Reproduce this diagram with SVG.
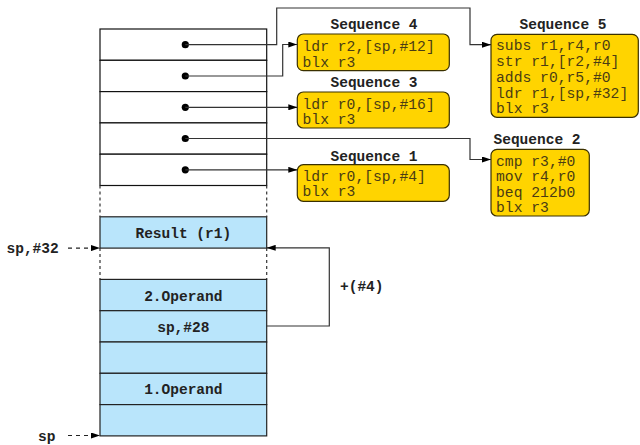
<svg xmlns="http://www.w3.org/2000/svg" width="640" height="445" viewBox="0 0 640 445">
<style>
.seq rect{fill:#ffd400;stroke:#3a3000;stroke-width:1.2}
.code{font-family:"Liberation Mono","Courier New",monospace;font-size:14.7px;fill:#4a3c14}
.bold{font-family:"Liberation Mono","Courier New",monospace;font-size:14.5px;font-weight:bold;fill:#222}
.row{fill:#fff;stroke:#111;stroke-width:1.2}
.blue{fill:#b9e5fb;stroke:#222;stroke-width:1.2}
.dot{fill:#000}
.conn{fill:none;stroke:#333;stroke-width:1.2}
.dash{fill:none;stroke:#222;stroke-width:1.2;stroke-dasharray:4,4}
.dotline{fill:none;stroke:#333;stroke-width:1.2;stroke-dasharray:3,3}
</style>
<defs>
<marker id="arr" viewBox="0 0 9 6" refX="9" refY="3" markerWidth="9" markerHeight="6" markerUnits="userSpaceOnUse" orient="auto">
<path d="M0,0 L9,3 L0,6 z" fill="#000"/>
</marker>
</defs>
<g id="stack-top">
<rect class="row" x="100" y="29" width="166.7" height="31.3"/>
<rect class="row" x="100" y="60.3" width="166.7" height="31.3"/>
<rect class="row" x="100" y="91.6" width="166.7" height="31.3"/>
<rect class="row" x="100" y="122.9" width="166.7" height="31.3"/>
<rect class="row" x="100" y="154.2" width="166.7" height="31.3"/>
<circle class="dot" cx="185.3" cy="44.7" r="3.6"/>
<circle class="dot" cx="185.3" cy="76" r="3.6"/>
<circle class="dot" cx="185.3" cy="107.3" r="3.6"/>
<circle class="dot" cx="185.3" cy="138.5" r="3.6"/>
<circle class="dot" cx="185.3" cy="169.8" r="3.6"/>
</g>
<g id="stack-gaps">
<path class="dotline" d="M100,185.5 V216.8 M266.7,185.5 V216.8 M100,248.1 V279.4 M266.7,248.1 V279.4"/>
</g>
<g id="result">
<rect class="blue" x="100" y="216.8" width="166.7" height="31.3"/>
<text class="bold" x="183.3" y="238" text-anchor="middle">Result (r1)</text>
</g>
<g id="stack-bottom">
<rect class="blue" x="100" y="279.4" width="166.7" height="31.3"/>
<text class="bold" x="183.3" y="300.5" text-anchor="middle">2.Operand</text>
<rect class="blue" x="100" y="310.7" width="166.7" height="31.3"/>
<text class="bold" x="183.3" y="331.5" text-anchor="middle">sp,#28</text>
<rect class="blue" x="100" y="342" width="166.7" height="31.3"/>
<rect class="blue" x="100" y="373.3" width="166.7" height="31.3"/>
<text class="bold" x="183.3" y="394" text-anchor="middle">1.Operand</text>
<rect class="blue" x="100" y="404.6" width="166.7" height="31.3"/>
</g>
<g id="labels">
<text class="bold" x="6.5" y="252.5">sp,#32</text>
<text class="bold" x="38" y="441">sp</text>
<text class="bold" x="340" y="291">+(#4)</text>
</g>
<g id="seq4" class="seq">
<text class="bold" x="374" y="29" text-anchor="middle">Sequence 4</text>
<rect x="297.3" y="34" width="152" height="36.7" rx="6"/>
<text class="code" x="302.5" y="51">ldr r2,[sp,#12]</text>
<text class="code" x="302.5" y="66.5">blx r3</text>
</g>
<g id="seq3" class="seq">
<text class="bold" x="374" y="87" text-anchor="middle">Sequence 3</text>
<rect x="297.3" y="92" width="152" height="36" rx="6"/>
<text class="code" x="302.5" y="108.5">ldr r0,[sp,#16]</text>
<text class="code" x="302.5" y="123.5">blx r3</text>
</g>
<g id="seq1" class="seq">
<text class="bold" x="374" y="160.5" text-anchor="middle">Sequence 1</text>
<rect x="297.3" y="164.7" width="152" height="36.6" rx="6"/>
<text class="code" x="302.5" y="180.7">ldr r0,[sp,#4]</text>
<text class="code" x="302.5" y="196.2">blx r3</text>
</g>
<g id="seq5" class="seq">
<text class="bold" x="563" y="29" text-anchor="middle">Sequence 5</text>
<rect x="491" y="34.3" width="147.3" height="83" rx="6"/>
<text class="code" x="496" y="50.2">subs r1,r4,r0</text>
<text class="code" x="496" y="66">str r1,[r2,#4]</text>
<text class="code" x="496" y="81.8">adds r0,r5,#0</text>
<text class="code" x="496" y="97.6">ldr r1,[sp,#32]</text>
<text class="code" x="496" y="113.4">blx r3</text>
</g>
<g id="seq2" class="seq">
<text class="bold" x="537" y="144" text-anchor="middle">Sequence 2</text>
<rect x="491" y="149.3" width="98.3" height="66.7" rx="6"/>
<text class="code" x="496" y="165.5">cmp r3,#0</text>
<text class="code" x="496" y="181">mov r4,r0</text>
<text class="code" x="496" y="196.5">beq 212b0</text>
<text class="code" x="496" y="212">blx r3</text>
</g>
<g id="connectors">
<path class="conn" d="M185.3,44.7 H276.7 V8 H470 V44.7 H491" marker-end="url(#arr)"/>
<path class="conn" d="M185.3,76 H282.7 V44.5 H297.3" marker-end="url(#arr)"/>
<path class="conn" d="M185.3,107.3 H297.3" marker-end="url(#arr)"/>
<path class="conn" d="M185.3,138.5 H470 V159.5 H491" marker-end="url(#arr)"/>
<path class="conn" d="M185.3,169.8 H297.3" marker-end="url(#arr)"/>
<path class="conn" d="M266.7,326 H329.3 V247.8 H266.7" marker-end="url(#arr)"/>
<path class="dash" d="M68,248.1 H100" marker-end="url(#arr)"/>
<path class="dash" d="M68,435.5 H100" marker-end="url(#arr)"/>
</g>
</svg>
